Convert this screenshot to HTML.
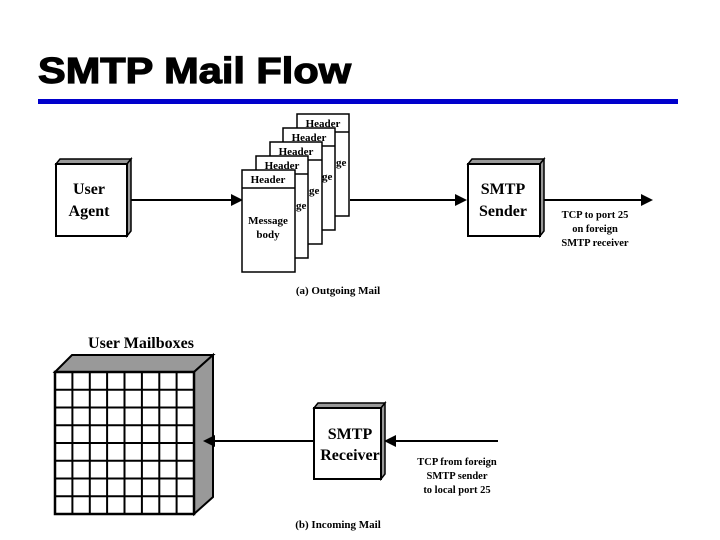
<!DOCTYPE html>
<html><head><meta charset="utf-8"><style>
html,body{margin:0;padding:0;background:#fff;}
svg{display:block;}
text{font-family:"Liberation Serif",serif;font-weight:bold;fill:#000;}
</style></head><body>
<svg width="720" height="540" viewBox="0 0 720 540" xmlns="http://www.w3.org/2000/svg">
<text x="38" y="83" textLength="313" lengthAdjust="spacingAndGlyphs" style="font-family:'Liberation Sans',sans-serif;font-size:36px;font-weight:bold;stroke:#000;stroke-width:1.2">SMTP Mail Flow</text>
<rect x="38" y="99" width="640" height="5" fill="#0000cc"/>

<!-- User Agent -->
<polygon points="56,164 60,159 131,159 127,164" fill="#999" stroke="#000" stroke-width="1.5"/>
<polygon points="127,164 131,159 131,231 127,236" fill="#999" stroke="#000" stroke-width="1.5"/>
<rect x="56" y="164" width="71" height="72" fill="#fff" stroke="#000" stroke-width="2"/>
<text x="89" y="194" font-size="16" text-anchor="middle">User</text>
<text x="89" y="216" font-size="16" text-anchor="middle">Agent</text>

<line x1="131" y1="200" x2="234" y2="200" stroke="#000" stroke-width="2"/>
<polygon points="231,194 243,200 231,206" fill="#000"/>

<g stroke="#000" stroke-width="1.5" fill="#fff">
<rect x="297" y="114" width="52" height="102"/><line x1="297" y1="132" x2="349" y2="132"/>
<rect x="283" y="128" width="52" height="102"/><line x1="283" y1="146" x2="335" y2="146"/>
<rect x="270" y="142" width="52" height="102"/><line x1="270" y1="160" x2="322" y2="160"/>
<rect x="256" y="156" width="52" height="102"/><line x1="256" y1="174" x2="308" y2="174"/>
<rect x="242" y="170" width="53" height="102"/><line x1="242" y1="188" x2="295" y2="188"/>
</g>
<g font-size="11" text-anchor="middle">
<text x="323" y="127">Header</text>
<text x="309" y="141">Header</text>
<text x="296" y="155">Header</text>
<text x="282" y="169">Header</text>
<text x="268" y="183">Header</text>
<text x="268" y="224">Message</text>
<text x="268" y="238">body</text>
</g>
<g font-size="11"><text x="336" y="166">ge</text><text x="322" y="180">ge</text><text x="309" y="194">ge</text><text x="296" y="209">ge</text></g>
<text x="338" y="294" font-size="11" text-anchor="middle">(a) Outgoing Mail</text>

<line x1="350" y1="200" x2="458" y2="200" stroke="#000" stroke-width="2"/>
<polygon points="455,194 467,200 455,206" fill="#000"/>

<polygon points="468,164 472,159 544,159 540,164" fill="#999" stroke="#000" stroke-width="1.5"/>
<polygon points="540,164 544,159 544,231 540,236" fill="#999" stroke="#000" stroke-width="1.5"/>
<rect x="468" y="164" width="72" height="72" fill="#fff" stroke="#000" stroke-width="2"/>
<text x="503" y="194" font-size="16" text-anchor="middle">SMTP</text>
<text x="503" y="216" font-size="16" text-anchor="middle">Sender</text>

<line x1="544" y1="200" x2="644" y2="200" stroke="#000" stroke-width="2"/>
<polygon points="641,194 653,200 641,206" fill="#000"/>
<g font-size="10.5" text-anchor="middle">
<text x="595" y="218">TCP to port 25</text>
<text x="595" y="232">on foreign</text>
<text x="595" y="246">SMTP receiver</text>
</g>

<text x="141" y="348" font-size="16" text-anchor="middle">User Mailboxes</text>
<polygon points="55,372 72,355 213,355 194,372" fill="#999" stroke="#000" stroke-width="2"/>
<polygon points="194,372 213,355 213,497 194,514" fill="#999" stroke="#000" stroke-width="2"/>
<rect x="55" y="372" width="139" height="142" fill="#fff" stroke="#000" stroke-width="2.5"/>
<g stroke="#000" stroke-width="2">
<line x1="72.4" y1="372" x2="72.4" y2="514"/><line x1="89.8" y1="372" x2="89.8" y2="514"/>
<line x1="107.1" y1="372" x2="107.1" y2="514"/><line x1="124.5" y1="372" x2="124.5" y2="514"/>
<line x1="141.9" y1="372" x2="141.9" y2="514"/><line x1="159.3" y1="372" x2="159.3" y2="514"/>
<line x1="176.6" y1="372" x2="176.6" y2="514"/>
<line x1="55" y1="389.8" x2="194" y2="389.8"/><line x1="55" y1="407.5" x2="194" y2="407.5"/>
<line x1="55" y1="425.3" x2="194" y2="425.3"/><line x1="55" y1="443" x2="194" y2="443"/>
<line x1="55" y1="460.8" x2="194" y2="460.8"/><line x1="55" y1="478.5" x2="194" y2="478.5"/>
<line x1="55" y1="496.3" x2="194" y2="496.3"/>
</g>

<line x1="313" y1="441" x2="212" y2="441" stroke="#000" stroke-width="2"/>
<polygon points="215,435 203,441 215,447" fill="#000"/>

<polygon points="314,408 318,403 385,403 381,408" fill="#999" stroke="#000" stroke-width="1.5"/>
<polygon points="381,408 385,403 385,474 381,479" fill="#999" stroke="#000" stroke-width="1.5"/>
<rect x="314" y="408" width="67" height="71" fill="#fff" stroke="#000" stroke-width="2"/>
<text x="350" y="439" font-size="16" text-anchor="middle">SMTP</text>
<text x="350" y="460" font-size="16" text-anchor="middle">Receiver</text>

<line x1="498" y1="441" x2="392" y2="441" stroke="#000" stroke-width="2"/>
<polygon points="396,435 384,441 396,447" fill="#000"/>
<g font-size="10.5" text-anchor="middle">
<text x="457" y="465">TCP from foreign</text>
<text x="457" y="479">SMTP sender</text>
<text x="457" y="493">to local port 25</text>
</g>
<text x="338" y="528" font-size="11" text-anchor="middle">(b) Incoming Mail</text>
</svg>
</body></html>
